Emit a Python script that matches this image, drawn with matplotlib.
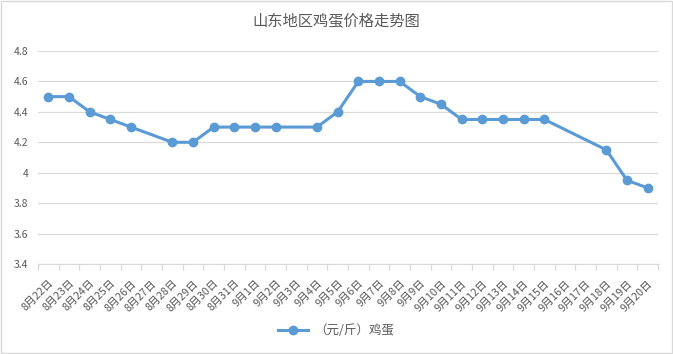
import numpy as np
import matplotlib.pyplot as plt
from matplotlib.lines import Line2D

plt.rcParams['font.family'] = ['Noto Sans CJK SC', 'DejaVu Sans']

# dates on the category axis
dates = ['8月22日', '8月23日', '8月24日', '8月25日', '8月26日', '8月27日',
         '8月28日', '8月29日', '8月30日', '8月31日', '9月1日', '9月2日',
         '9月3日', '9月4日', '9月5日', '9月6日', '9月7日', '9月8日',
         '9月9日', '9月10日', '9月11日', '9月12日', '9月13日', '9月14日',
         '9月15日', '9月16日', '9月17日', '9月18日', '9月19日', '9月20日']
# egg price (yuan/jin), None = no quote that day
price = [4.5, 4.5, 4.4, 4.35, 4.3, None,
         4.2, 4.2, 4.3, 4.3, 4.3, 4.3,
         None, 4.3, 4.4, 4.6, 4.6, 4.6,
         4.5, 4.45, 4.35, 4.35, 4.35, 4.35,
         4.35, None, None, 4.15, 3.95, 3.9]
y_ticks = [3.4, 3.6, 3.8, 4, 4.2, 4.4, 4.6, 4.8]
series_name = '（元/斤）鸡蛋'
title = '山东地区鸡蛋价格走势图'

blue = '#5B9BD5'
grey_txt = '#595959'
grid_c = '#D9D9D9'

fig = plt.figure(figsize=(6.73, 3.54), dpi=100)
ax = fig.add_axes([38 / 673, 1 - 264 / 354, 620 / 673, (264 - 51) / 354])

x = np.arange(len(dates))
y = np.array([np.nan if v is None else v for v in price])
ok = ~np.isnan(y)
ax.plot(x[ok], y[ok], color=blue, lw=2.2, marker='o', ms=6,
        solid_capstyle='round', solid_joinstyle='round', zorder=3)

ax.set_xlim(-0.5, len(dates) - 0.5)
ax.set_ylim(3.4, 4.8)
ax.set_yticks(y_ticks)
ax.set_yticklabels([f'{v:g}' for v in y_ticks])
ax.yaxis.grid(True, color=grid_c, lw=0.9)
ax.set_axisbelow(True)
ax.tick_params(axis='y', length=0, labelsize=7.5, labelcolor=grey_txt, pad=7)

# labels at category centres, tick marks at category borders
ax.set_xticks(x)
ax.set_xticklabels(dates, rotation=45, ha='right', rotation_mode='anchor',
                   fontsize=7.8, color=grey_txt)
ax.tick_params(axis='x', which='major', length=0, pad=10)
ax.set_xticks(np.arange(-0.5, len(dates)), minor=True)
ax.tick_params(axis='x', which='minor', length=4, color=grid_c, width=0.9)

for s in ['top', 'right', 'left']:
    ax.spines[s].set_visible(False)
ax.spines['bottom'].set_color(grid_c)
ax.spines['bottom'].set_linewidth(0.9)

fig.text(0.5, 1 - 21 / 354, title, ha='center', va='center',
         fontsize=11, color=grey_txt)

handle = Line2D([], [], color=blue, lw=2.2, marker='o', ms=6)
fig.legend([handle], [series_name], loc='center', bbox_to_anchor=(0.5, 1 - 331 / 354),
           frameon=False, fontsize=9, labelcolor=grey_txt, handlelength=2.4,
           handletextpad=0.5)

# light border around the chart area
fig.patches.append(plt.Rectangle((0.002, 0.003), 0.996, 0.994, transform=fig.transFigure,
                                 fill=False, edgecolor=grid_c, lw=1.0))

fig.savefig('out.png', dpi=100)
